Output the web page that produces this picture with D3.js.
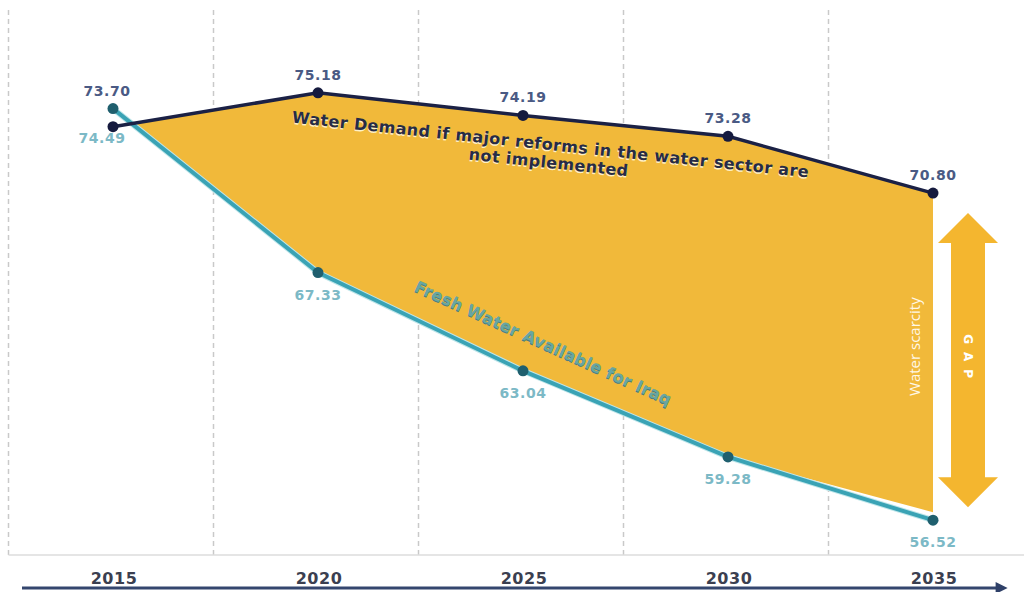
<!DOCTYPE html>
<html>
<head>
<meta charset="utf-8">
<script src="https://cdn.jsdelivr.net/npm/d3@7"></script>
<style>
  body { margin: 0; background: #fff; }
  svg { display: block; font-family: "DejaVu Sans", Verdana, sans-serif; }
</style>
</head>
<body>
<svg id="chart"></svg>
<script>
// chart data
var years = ["2015", "2020", "2025", "2030", "2035"];
var demand = [73.70, 75.18, 74.19, 73.28, 70.80];
var supply = [74.49, 67.33, 63.04, 59.28, 56.52];
var demandText = ["Water Demand if major reforms in the water sector are", "not implemented"];
var supplyText = "Fresh Water Available for Iraq";

var width = 1024, height = 592;

var svg = d3.select('#chart')
    .attr('width', width)
    .attr('height', height);

var x = d3.scalePoint().domain(years).range([113, 933]);
var step = x.step();
var y = d3.scaleLinear().domain([55, 76]).range([555, 74]);

// dashed vertical gridlines between the years
svg.append('g')
    .selectAll('line')
    .data(years)
    .enter().append('line')
    .attr('x1', d => x(d) - step / 2 - 2)
    .attr('x2', d => x(d) - step / 2 - 2)
    .attr('y1', 10)
    .attr('y2', 559)
    .style('stroke', '#c9c9c9')
    .style('stroke-width', 1.5)
    .style('stroke-dasharray', '5,4');

// baseline
svg.append('line')
    .attr('x1', x(years[0]) - step / 2 - 2)
    .attr('x2', width)
    .attr('y1', y(55))
    .attr('y2', y(55))
    .style('stroke', '#dcdcdc')
    .style('stroke-width', 1.5);

// crossing point of the two lines in the first segment
function crossing() {
    var x0 = x(years[0]), x1 = x(years[1]);
    var a0 = y(demand[0]), a1 = y(demand[1]);
    var b0 = y(supply[0]), b1 = y(supply[1]);
    var t = (b0 - a0) / ((a1 - a0) - (b1 - b0));
    return [x0 + t * (x1 - x0), a0 + t * (a1 - a0)];
}

// gap area
var cross = crossing();
var poly = [cross];
for (var i = 1; i < years.length; i++) poly.push([x(years[i]), y(demand[i])]);
for (var j = years.length - 1; j >= 1; j--) poly.push([x(years[j]), y(supply[j]) - 8 * (j === years.length - 1)]);
svg.append('path')
    .attr('d', 'M' + poly.join('L') + 'Z')
    .style('fill', '#f1b93a');

var line = d3.line()
    .x((d, i) => x(years[i]))
    .y(d => y(d));

// supply line (teal with light edge)
svg.append('path')
    .datum(supply)
    .attr('d', line)
    .style('fill', 'none')
    .style('stroke', '#bfe6ea')
    .style('stroke-width', 6);
svg.append('path')
    .datum(supply)
    .attr('d', line)
    .style('fill', 'none')
    .style('stroke', '#3aa3b5')
    .style('stroke-width', 4);

// demand line
svg.append('path')
    .datum(demand)
    .attr('d', line)
    .style('fill', 'none')
    .style('stroke', '#1b2145')
    .style('stroke-width', 3.5);

// points
svg.selectAll('.sp')
    .data(supply)
    .enter().append('circle')
    .attr('class', 'sp')
    .attr('cx', (d, i) => x(years[i]))
    .attr('cy', d => y(d))
    .attr('r', 5.5)
    .style('fill', '#1f5f6e');

svg.selectAll('.dp')
    .data(demand)
    .enter().append('circle')
    .attr('class', 'dp')
    .attr('cx', (d, i) => x(years[i]))
    .attr('cy', d => y(d))
    .attr('r', 5.5)
    .style('fill', '#151a3e');

// value labels
svg.selectAll('.dl')
    .data(demand)
    .enter().append('text')
    .attr('class', 'dl')
    .attr('x', (d, i) => x(years[i]) - (i === 0 ? 6 : 0))
    .attr('y', (d, i) => Math.min(y(d), y(supply[i])) - 13)
    .attr('text-anchor', 'middle')
    .style('font-size', '14px')
    .style('font-weight', 'bold')
    .style('letter-spacing', '0.5px')
    .style('fill', '#4a5a84')
    .text(d => d.toFixed(2));

svg.selectAll('.sl')
    .data(supply)
    .enter().append('text')
    .attr('class', 'sl')
    .attr('x', (d, i) => x(years[i]) - (i === 0 ? 11 : 0))
    .attr('y', (d, i) => Math.max(y(d), y(demand[i])) + (i === 0 ? 16 : 27))
    .attr('text-anchor', 'middle')
    .style('font-size', '14px')
    .style('font-weight', 'bold')
    .style('letter-spacing', '0.5px')
    .style('fill', '#7cb9c6')
    .text(d => d.toFixed(2));

// annotation along the demand line
var dAng = Math.atan2(y(demand[3]) - y(demand[1]), x(years[3]) - x(years[1])) * 180 / Math.PI;
var dNote = svg.append('g')
    .attr('transform', 'translate(550,150) rotate(' + dAng + ')');
[['#fff1c6', 1.5], ['#262b47', 0]].forEach(function (s) {
    dNote.selectAll(null)
        .data(demandText)
        .enter().append('text')
        .attr('x', 0)
        .attr('y', (d, i) => i * 18 + s[1])
        .attr('text-anchor', 'middle')
        .style('font-size', '16px')
        .style('font-weight', 'bold')
        .style('letter-spacing', '0.4px')
        .style('fill', s[0])
        .text(d => d);
});

// annotation along the supply line
var sAng = Math.atan2(y(supply[3]) - y(supply[1]), x(years[3]) - x(years[1])) * 180 / Math.PI;
var sNote = svg.append('g')
    .attr('transform', 'translate(541,348) rotate(' + sAng + ')');
[['#4a7f7a', 1.2], ['#68a6a2', 0]].forEach(function (s) {
    sNote.append('text')
        .attr('y', s[1])
        .attr('text-anchor', 'middle')
        .style('font-size', '16px')
        .style('font-weight', 'bold')
        .style('letter-spacing', '0.3px')
        .style('fill', s[0])
        .text(supplyText);
});

// water scarcity label
var last = years.length - 1;
svg.append('text')
    .attr('transform', 'translate(920,' + ((y(demand[last]) + y(supply[last])) / 2 - 10) + ') rotate(-90)')
    .attr('text-anchor', 'middle')
    .style('font-family', '"Open Sans", sans-serif')
    .style('font-size', '15px')
    .style('fill', '#fff8e8')
    .text('Water scarcity');

// GAP double arrow
var ax = 968, aTop = y(demand[last]) + 20, aBot = y(supply[last]) - 13;
var hw = 30, sw = 17, hh = 30;
var arrow = [
    [ax, aTop], [ax + hw, aTop + hh], [ax + sw, aTop + hh], [ax + sw, aBot - hh],
    [ax + hw, aBot - hh], [ax, aBot], [ax - hw, aBot - hh], [ax - sw, aBot - hh],
    [ax - sw, aTop + hh], [ax - hw, aTop + hh]
];
svg.append('path')
    .attr('d', 'M' + arrow.join('L') + 'Z')
    .style('fill', '#f4b62f');

svg.append('text')
    .attr('transform', 'translate(' + (ax - 4) + ',' + ((aTop + aBot) / 2) + ') rotate(90)')
    .attr('text-anchor', 'middle')
    .style('font-size', '12px')
    .style('font-weight', 'bold')
    .style('letter-spacing', '8px')
    .style('fill', '#ffffff')
    .text('GAP');

// year labels
svg.selectAll('.yl')
    .data(years)
    .enter().append('text')
    .attr('class', 'yl')
    .attr('x', d => x(d) + 1)
    .attr('y', 584)
    .attr('text-anchor', 'middle')
    .style('font-size', '16px')
    .style('font-weight', 'bold')
    .style('letter-spacing', '0.5px')
    .style('fill', '#3b3f50')
    .text(d => d);

// bottom timeline arrow
svg.append('defs').append('marker')
    .attr('id', 'head')
    .attr('viewBox', '0 0 10 10')
    .attr('refX', 2)
    .attr('refY', 5)
    .attr('markerWidth', 4.5)
    .attr('markerHeight', 4)
    .attr('orient', 'auto')
    .append('path')
    .attr('d', 'M0,0L10,5L0,10Z')
    .style('fill', '#2f4068');

svg.append('line')
    .attr('x1', 22)
    .attr('x2', 998)
    .attr('y1', 588)
    .attr('y2', 588)
    .style('stroke', '#34466e')
    .style('stroke-width', 3)
    .attr('marker-end', 'url(#head)');
</script>
</body>
</html>
